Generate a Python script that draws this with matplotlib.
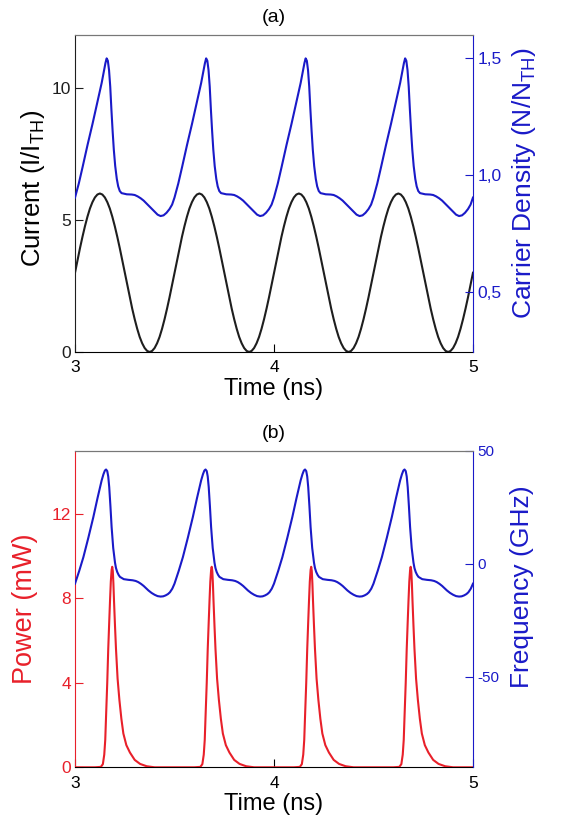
import numpy as np
import matplotlib
matplotlib.use("Agg")
import matplotlib.pyplot as plt

plt.rcParams["font.family"] = ["Liberation Sans", "DejaVu Sans"]
plt.rcParams["mathtext.fontset"] = "custom"
plt.rcParams["mathtext.rm"] = "Liberation Sans"
plt.rcParams["mathtext.it"] = "Liberation Sans:italic"
plt.rcParams["axes.unicode_minus"] = False

BLUE = "#1a1ac8"
RED = "#e8202a"
BLACK = "#1e1e1e"

# one modulation period (0.5 ns), times relative to period start
PERIOD = 0.5
N_PERIODS = 4
T0 = 3.0

cur_t = list(np.arange(40) * 0.0125)
cur_v = [3.0, 3.47, 3.93, 4.36, 4.76, 5.12, 5.43, 5.67, 5.85, 5.96,
         6.0, 5.96, 5.85, 5.67, 5.43, 5.12, 4.76, 4.36, 3.93, 3.47,
         3.0, 2.53, 2.07, 1.64, 1.24, 0.88, 0.57, 0.33, 0.15, 0.04,
         0.0, 0.04, 0.15, 0.33, 0.57, 0.88, 1.24, 1.64, 2.07, 2.53]

dens_t = [0.0, 0.019, 0.038, 0.063, 0.088, 0.113, 0.134, 0.146, 0.153, 0.159,
          0.165, 0.171, 0.177, 0.183, 0.189, 0.195, 0.202, 0.21, 0.217, 0.225,
          0.234, 0.26, 0.285, 0.30, 0.315, 0.33, 0.345, 0.36, 0.38, 0.40,
          0.415, 0.43, 0.445, 0.46, 0.475, 0.488]
dens_v = [0.905, 0.965, 1.035, 1.13, 1.22, 1.315, 1.395, 1.45, 1.48, 1.50,
          1.49, 1.45, 1.38, 1.28, 1.19, 1.11, 1.04, 0.985, 0.953, 0.933,
          0.924, 0.919, 0.918, 0.916, 0.91, 0.902, 0.892, 0.879, 0.862, 0.845,
          0.832, 0.826, 0.829, 0.84, 0.856, 0.875]

freq_t = [0.0, 0.021, 0.042, 0.067, 0.092, 0.113, 0.134, 0.143, 0.150, 0.156,
          0.162, 0.167, 0.172, 0.178, 0.184, 0.192, 0.201, 0.206, 0.212, 0.219,
          0.226, 0.245, 0.268, 0.29, 0.305, 0.318, 0.332, 0.345, 0.357, 0.369,
          0.385, 0.40, 0.415, 0.43, 0.443, 0.455, 0.467, 0.477, 0.489]
freq_v = [-8.8, -3.2, 2.9, 11.5, 20.6, 29.0, 36.9, 39.6, 41.2, 41.7,
          41.0, 38.6, 33.9, 25.5, 16.2, 7.0, 0.5, -1.9, -3.6, -4.9,
          -5.8, -6.8, -7.1, -7.3, -7.6, -8.1, -8.9, -9.8, -10.8, -11.8,
          -12.9, -13.7, -14.3, -14.5, -14.4, -14.0, -13.4, -12.6, -11.0]

pow_t = [0.0, 0.10, 0.13, 0.14, 0.147, 0.152, 0.156, 0.162, 0.167, 0.172,
         0.176, 0.180, 0.184, 0.187, 0.190, 0.193, 0.196, 0.201, 0.206, 0.214,
         0.223, 0.233, 0.243, 0.258, 0.276, 0.30, 0.327, 0.36, 0.40]
pow_v = [0.0, 0.0, 0.02, 0.15, 0.6, 1.3, 2.4, 4.0, 5.6, 6.9,
         7.9, 8.8, 9.35, 9.5, 9.3, 8.7, 7.9, 6.7, 5.6, 4.2,
         3.2, 2.3, 1.6, 1.05, 0.7, 0.35, 0.16, 0.05, 0.0]


def repeat(t_rel, v):
    t = np.concatenate([T0 + k * PERIOD + np.array(t_rel) for k in range(N_PERIODS)])
    y = np.concatenate([np.array(v)] * N_PERIODS)
    # close the last period at t = 5 ns
    return np.append(t, T0 + N_PERIODS * PERIOD), np.append(y, v[0])


def style_axes(ax, ax2, left_color, right_color):
    for a in (ax, ax2):
        a.spines["top"].set_color("#777777")
    ax.spines["right"].set_visible(False)
    ax2.spines["left"].set_visible(False)
    ax2.spines["bottom"].set_visible(False)
    ax.spines["left"].set_color(left_color)
    ax2.spines["right"].set_color(right_color)
    ax.tick_params(axis="y", direction="in", length=6, colors=left_color,
                   labelsize=12.5, pad=3)
    ax.tick_params(axis="x", direction="in", length=6, labelsize=12.5, pad=6)
    ax2.tick_params(axis="y", direction="in", length=6, colors=right_color,
                    labelsize=12.5, pad=3)
    ax.set_xlim(3, 5)
    ax.set_xticks([3, 4, 5])
    ax.set_xlabel("Time (ns)", fontsize=17, labelpad=2)


fig = plt.figure(figsize=(5.61, 8.27), dpi=100)

# (a) current and carrier density
ax_a = fig.add_axes([0.1337, 0.5744, 0.7094, 0.3833])
ax_a2 = ax_a.twinx()
t, y = repeat(cur_t, cur_v)
ax_a.plot(t, y, color=BLACK, lw=1.5)
t, y = repeat(dens_t, dens_v)
ax_a2.plot(t, y, color=BLUE, lw=1.5)
ax_a.set_ylim(0, 12)
ax_a.set_yticks([0, 5, 10])
ax_a2.set_ylim(0.245, 1.6)
ax_a2.set_yticks([0.5, 1.0, 1.5], ["0,5", "1,0", "1,5"])
style_axes(ax_a, ax_a2, BLACK, BLUE)
ax_a.set_ylabel(r"Current (I/I$_{\mathrm{TH}}$)", fontsize=18.5, labelpad=3)
ax_a.yaxis.label.set_y(0.517)
ax_a2.set_ylabel(r"Carrier Density (N/N$_{\mathrm{TH}}$)", fontsize=19,
                 color=BLUE, labelpad=6)
ax_a2.yaxis.label.set_y(0.533)
ax_a.set_title("(a)", fontsize=14, pad=9)

# (b) power and frequency chirp
ax_b = fig.add_axes([0.1337, 0.0722, 0.7094, 0.3828])
ax_b2 = ax_b.twinx()
t, y = repeat(pow_t, pow_v)
ax_b.plot(t, y, color=RED, lw=1.5, zorder=3)
t, y = repeat(freq_t, freq_v)
ax_b2.plot(t, y, color=BLUE, lw=1.5)
ax_b.set_ylim(0, 15)
ax_b.set_yticks([0, 4, 8, 12])
ax_b2.set_ylim(-90, 50)
ax_b2.set_yticks([-50, 0, 50])
style_axes(ax_b, ax_b2, RED, BLUE)
ax_b2.tick_params(axis="y", labelsize=11)
ax_b.set_ylabel("Power (mW)", fontsize=19.5, color=RED, labelpad=10)
ax_b2.set_ylabel("Frequency (GHz)", fontsize=19, color=BLUE, labelpad=8)
ax_b2.yaxis.label.set_y(0.57)
ax_b.set_title("(b)", fontsize=14, pad=9)

fig.savefig("out.png", dpi=100)
